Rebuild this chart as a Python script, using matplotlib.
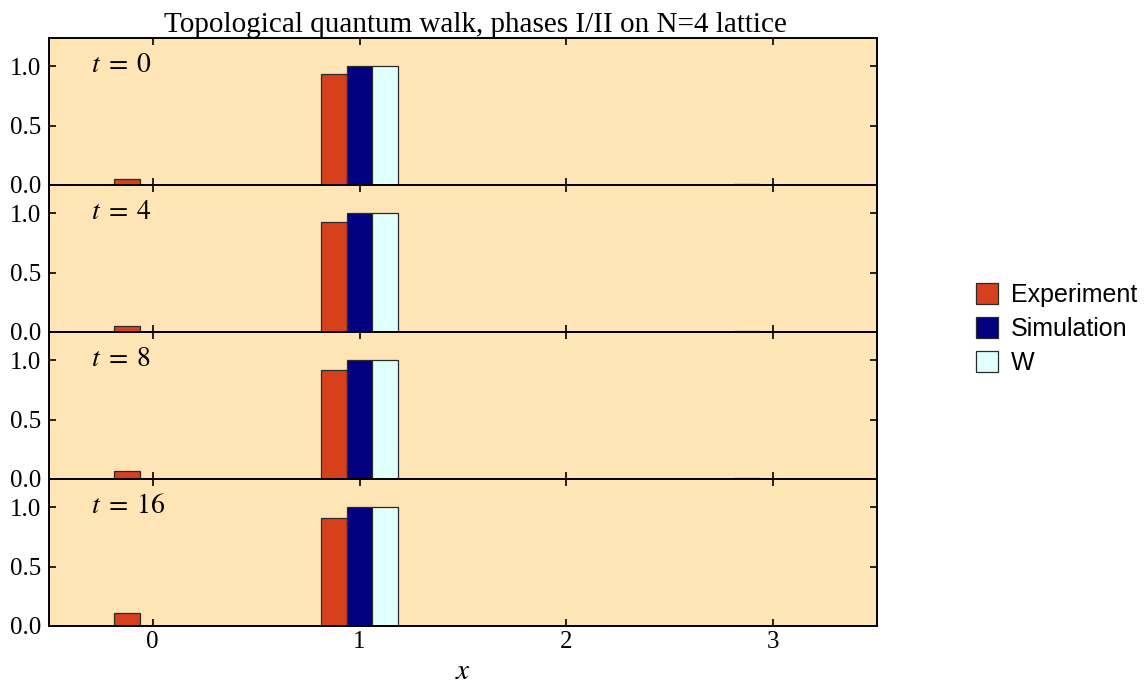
import matplotlib.pyplot as plt
import numpy as np

# data
positions = [0, 1, 2, 3]
times = [0, 4, 8, 16]
experiment = [
    [0.05, 0.94, 0.002, 0.008],
    [0.05, 0.93, 0.003, 0.008],
    [0.07, 0.915, 0.003, 0.006],
    [0.11, 0.91, 0.002, 0.002],
]
simulation = [
    [0.0, 1.0, 0.0, 0.0],
    [0.0, 1.0, 0.0, 0.0],
    [0.0, 1.0, 0.0, 0.0],
    [0.0, 1.0, 0.0, 0.0],
]
w_vals = [
    [0.0, 1.0, 0.0, 0.0],
    [0.0, 1.0, 0.0, 0.0],
    [0.0, 1.0, 0.0, 0.0],
    [0.0, 1.0, 0.0, 0.0],
]
series_names = ['Experiment', 'Simulation', 'W']
colors = ['#d6401c', '#000080', '#e0ffff']

plt.rcParams['font.family'] = ['Liberation Serif', 'DejaVu Serif']
plt.rcParams['mathtext.fontset'] = 'stix'

fig, axes = plt.subplots(4, 1, figsize=(11.46, 6.9), dpi=100, sharex=True)
fig.subplots_adjust(left=0.043, right=0.765, top=0.945, bottom=0.093, hspace=0)

x = np.array(positions)
width = 0.125
handles = []
for i, ax in enumerate(axes):
    ax.set_facecolor('#ffe4b5')
    data = [experiment[i], simulation[i], w_vals[i]]
    for k, vals in enumerate(data):
        b = ax.bar(x + (k - 1) * width, vals, width, color=colors[k],
                   edgecolor='#2a2a2a', linewidth=0.9, zorder=2)
        if i == 0:
            handles.append(b)
    ax.set_ylim(0, 1.24)
    ax.set_xlim(-0.5, 3.5)
    ax.set_yticks([0.0, 0.5, 1.0])
    ax.set_yticklabels(['0.0', '0.5', '1.0'])
    ax.tick_params(direction='in', top=True, right=True, labelsize=18,
                   length=5, width=1.2)
    ax.tick_params(axis='y', pad=6)
    ax.tick_params(axis='x', pad=4)
    for s in ax.spines.values():
        s.set_linewidth(1.4)
    ax.text(0.05, 0.9, r'$t\;=\;%d$' % times[i], transform=ax.transAxes,
            fontsize=20, va='top', ha='left')

axes[-1].set_xticks(positions)
axes[-1].set_xticklabels([str(p) for p in positions])
axes[-1].set_xlabel('$x$', fontsize=21, labelpad=4)
axes[0].set_title('Topological quantum walk, phases I/II on N=4 lattice',
                  fontsize=21, pad=4, x=0.515)

fig.legend(handles, series_names, loc='center left', bbox_to_anchor=(0.832, 0.523),
           frameon=False, prop={'family': 'Liberation Sans', 'size': 18},
           handlelength=0.9, handleheight=0.9, handletextpad=0.5, labelspacing=0.4)

plt.savefig('out.png', dpi=100)
